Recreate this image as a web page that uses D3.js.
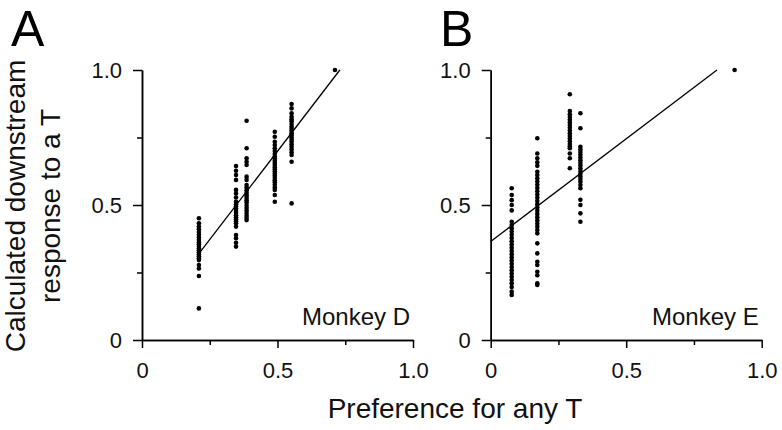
<!DOCTYPE html>
<html>
<head>
<meta charset="utf-8">
<script src="https://cdn.jsdelivr.net/npm/d3@7"></script>
<style>
  body { margin: 0; background: #fff; }
  svg { display: block; font-family: "Liberation Sans", Arial, sans-serif; }
</style>
</head>
<body>
<div id="chart"></div>
<script>
// Monkey D: preference values (x) of each column and the responses in it
const prefD = [0.21, 0.347, 0.386, 0.49, 0.552, 0.712];
const respD = [
  [0.451, 0.432, 0.42, 0.41, 0.40, 0.39, 0.38, 0.37, 0.362, 0.355, 0.348, 0.34, 0.332, 0.325, 0.318, 0.31, 0.303, 0.296, 0.278, 0.265, 0.237, 0.117],
  [0.644, 0.627, 0.611, 0.593, 0.556, 0.543, 0.528, 0.512, 0.503, 0.495, 0.487, 0.478, 0.47, 0.462, 0.455, 0.447, 0.44, 0.432, 0.42, 0.389, 0.377, 0.36, 0.346],
  [0.812, 0.71, 0.673, 0.66, 0.648, 0.605, 0.593, 0.574, 0.565, 0.555, 0.545, 0.536, 0.527, 0.518, 0.51, 0.5, 0.49, 0.48, 0.47, 0.46, 0.452, 0.444],
  [0.771, 0.753, 0.734, 0.722, 0.71, 0.70, 0.69, 0.68, 0.672, 0.664, 0.656, 0.648, 0.64, 0.632, 0.624, 0.616, 0.608, 0.6, 0.592, 0.584, 0.575, 0.565, 0.556, 0.537, 0.512],
  [0.874, 0.858, 0.84, 0.827, 0.818, 0.81, 0.8, 0.79, 0.782, 0.774, 0.766, 0.758, 0.75, 0.742, 0.734, 0.725, 0.716, 0.706, 0.695, 0.685, 0.66, 0.506],
  [1.0],
];
const fitD = [[0.21, 0.32], [0.73, 1.0]];

// Monkey E
const prefE = [0.0775, 0.172, 0.292, 0.331, 0.90];
const respE = [
  [0.562, 0.537, 0.518, 0.5, 0.48, 0.438, 0.426, 0.414, 0.402, 0.39, 0.378, 0.366, 0.354, 0.342, 0.33, 0.318, 0.306, 0.294, 0.282, 0.27, 0.258, 0.246, 0.234, 0.222, 0.21, 0.196, 0.179, 0.167],
  [0.747, 0.691, 0.673, 0.658, 0.645, 0.623, 0.611, 0.599, 0.587, 0.575, 0.563, 0.551, 0.539, 0.527, 0.515, 0.503, 0.491, 0.479, 0.467, 0.455, 0.443, 0.431, 0.419, 0.407, 0.395, 0.358, 0.321, 0.29, 0.278, 0.253, 0.24, 0.21, 0.204],
  [0.91, 0.848, 0.836, 0.826, 0.816, 0.806, 0.796, 0.786, 0.776, 0.766, 0.756, 0.746, 0.736, 0.726, 0.718, 0.71, 0.691, 0.673, 0.636],
  [0.84, 0.784, 0.716, 0.706, 0.696, 0.686, 0.676, 0.666, 0.656, 0.646, 0.636, 0.626, 0.616, 0.606, 0.596, 0.586, 0.574, 0.562, 0.519, 0.5, 0.469, 0.438],
  [1.0],
];
const fitE = [[0, 0.365], [0.835, 1.0]];

const majorTicks = [0, 0.5, 1.0];
const minorTicks = [0.25, 0.75];

const W = 782, H = 430;
const svg = d3.select("#chart").append("svg")
  .attr("width", W).attr("height", H);

const fmt = (d) => (d === 0 ? "0" : d3.format(".1f")(d));

function drawPanel(left, letter, letterX, name, pref, resp, fit) {
  const x = d3.scaleLinear().domain([0, 1]).range([left, left + 271]);
  const y = d3.scaleLinear().domain([0, 1]).range([340, 70]);

  const g = svg.append("g");

  // minor ticks first, then major axis on top
  g.append("g").attr("transform", `translate(0,${y(0)})`)
    .call(d3.axisBottom(x).tickValues(minorTicks).tickSize(5).tickSizeOuter(0).tickFormat(""));
  g.append("g").attr("transform", `translate(${x(0)},0)`)
    .call(d3.axisLeft(y).tickValues(minorTicks).tickSize(5).tickSizeOuter(0).tickFormat(""));

  g.append("g").attr("transform", `translate(0,${y(0)})`)
    .call(d3.axisBottom(x).tickValues(majorTicks).tickSize(8).tickSizeOuter(0).tickPadding(14).tickFormat(fmt));
  g.append("g").attr("transform", `translate(${x(0)},0)`)
    .call(d3.axisLeft(y).tickValues(majorTicks).tickSize(9).tickSizeOuter(0).tickPadding(11).tickFormat(fmt));

  g.selectAll(".domain, .tick line").attr("stroke", "#000").attr("stroke-width", 1.5);
  g.selectAll(".tick text")
    .attr("font-family", "Liberation Sans, Arial, sans-serif")
    .attr("font-size", 22).attr("fill", "#111");

  // regression line
  g.append("line")
    .attr("x1", x(fit[0][0])).attr("y1", y(fit[0][1]))
    .attr("x2", x(fit[1][0])).attr("y2", y(fit[1][1]))
    .attr("stroke", "#000").attr("stroke-width", 1.3);

  // dots
  const pts = [];
  pref.forEach((p, i) => resp[i].forEach((r) => pts.push([p, r])));
  g.selectAll("circle").data(pts).enter().append("circle")
    .attr("cx", (d) => x(d[0]))
    .attr("cy", (d) => y(d[1]))
    .attr("r", 2.3)
    .attr("fill", "#000");

  g.append("text")
    .attr("x", x(1) - 3).attr("y", 325)
    .attr("text-anchor", "end")
    .attr("font-size", 24).attr("fill", "#111")
    .text(name);

  g.append("text")
    .attr("x", letterX).attr("y", 46)
    .attr("font-size", 50).attr("fill", "#000")
    .text(letter);
}

drawPanel(142, "A", 11, "Monkey D", prefD, respD, fitD);
drawPanel(490.7, "B", 440, "Monkey E", prefE, respE, fitE);

// axis titles
svg.append("text")
  .attr("x", 455).attr("y", 418)
  .attr("text-anchor", "middle")
  .attr("font-size", 28).attr("fill", "#111")
  .text("Preference for any T");

const yTitle = svg.append("text")
  .attr("transform", "translate(0,206) rotate(-90)")
  .attr("text-anchor", "middle")
  .attr("font-size", 28).attr("fill", "#111");
yTitle.append("tspan").attr("x", 0).attr("y", 25).text("Calculated downstream");
yTitle.append("tspan").attr("x", 0).attr("y", 60).text("response to a T");
</script>
</body>
</html>
